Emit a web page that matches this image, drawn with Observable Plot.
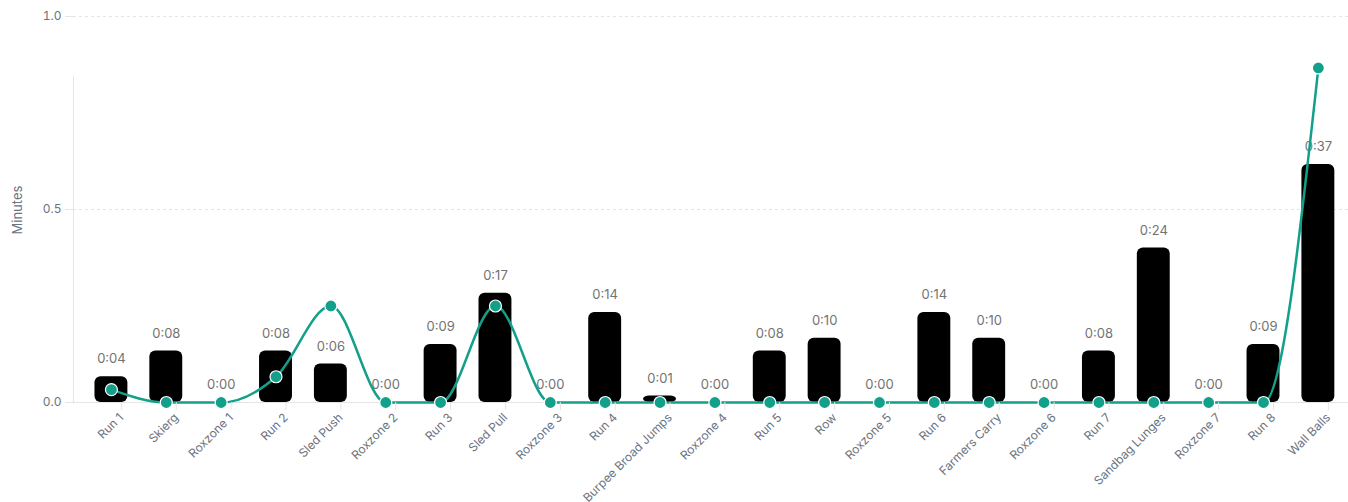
<!DOCTYPE html>
<html>
<head>
<meta charset="utf-8">
<script src="https://cdn.jsdelivr.net/npm/d3@7"></script>
<script src="https://cdn.jsdelivr.net/npm/@observablehq/plot@0.6"></script>
<style>
  html, body { margin: 0; padding: 0; background: #fff; }
  #chart { width: 1348px; height: 502px; overflow: hidden; }
</style>
</head>
<body>
<div id="chart"></div>
<script>
const categories = ["Run 1", "Skierg", "Roxzone 1", "Run 2", "Sled Push", "Roxzone 2", "Run 3", "Sled Pull", "Roxzone 3", "Run 4", "Burpee Broad Jumps", "Roxzone 4", "Run 5", "Row", "Roxzone 5", "Run 6", "Farmers Carry", "Roxzone 6", "Run 7", "Sandbag Lunges", "Roxzone 7", "Run 8", "Wall Balls"];
// bar values, seconds
const barSeconds = [4, 8, 0, 8, 6, 0, 9, 17, 0, 14, 1, 0, 8, 10, 0, 14, 10, 0, 8, 24, 0, 9, 37];
// line values, seconds
const lineSeconds = [2, 0, 0, 4, 15, 0, 0, 15, 0, 0, 0, 0, 0, 0, 0, 0, 0, 0, 0, 0, 0, 0, 52];
const yTicks = [0, 0.5, 1.0];

const fmt = s => `${Math.floor(s / 60)}:${String(s % 60).padStart(2, "0")}`;
const bars = categories.map((c, i) => ({cat: c, min: barSeconds[i] / 60, label: fmt(barSeconds[i])}));
const line = categories.map((c, i) => ({cat: c, min: lineSeconds[i] / 60}));
const maxLine = d3.max(line, d => d.min);

const teal = "#12a08a";
const grid = "#e5e5e5";

const chart = Plot.plot({
  width: 1348,
  height: 502,
  marginLeft: 73,
  marginRight: 0,
  marginTop: 16,
  marginBottom: 100,
  style: {fontFamily: "Inter, 'Noto Sans', sans-serif", background: "#fff"},
  x: {domain: categories, paddingInner: 0.4, paddingOuter: 0.2, round: false, insetLeft: 10.5, insetRight: 2.7, axis: null},
  y: {domain: [0, 1], axis: null},
  marks: [
    Plot.gridY(yTicks.slice(1), {stroke: grid, strokeOpacity: 1, strokeDasharray: "3,3"}),
    Plot.ruleY([0], {stroke: grid}),
    Plot.ruleX([categories[0]], {y1: 0, y2: maxLine, stroke: grid, dx: -37.9, insetBottom: -8}),
    Plot.axisY({ticks: yTicks, tickFormat: d3.format(".1f"), tickSize: 8, tickPadding: 4, stroke: grid, fill: "#6b7280", fontSize: 12, label: null}),
    Plot.text(["Minutes"], {frameAnchor: "left", rotate: -90, dx: -56, dy: 25, fill: "#6b7280", fontSize: 13}),
    Plot.barY(bars, {x: "cat", y: "min", fill: "#000", rx: 6}),
    Plot.text(bars, {x: "cat", y: "min", text: "label", dy: -17.5, fill: "#737373", fontSize: 13}),
    Plot.line(line, {x: "cat", y: "min", stroke: teal, strokeWidth: 2.5, curve: "monotone-x"}),
    Plot.dot(line, {x: "cat", y: "min", r: 6, fill: teal, stroke: "#fff", strokeWidth: 1.2}),
    Plot.axisX({tickRotate: -45, tickSize: 8, tickPadding: 5, dx: 10, stroke: grid, fill: "#6b7280", fontSize: 12, label: null})
  ]
});
document.getElementById("chart").appendChild(chart);
</script>
</body>
</html>
